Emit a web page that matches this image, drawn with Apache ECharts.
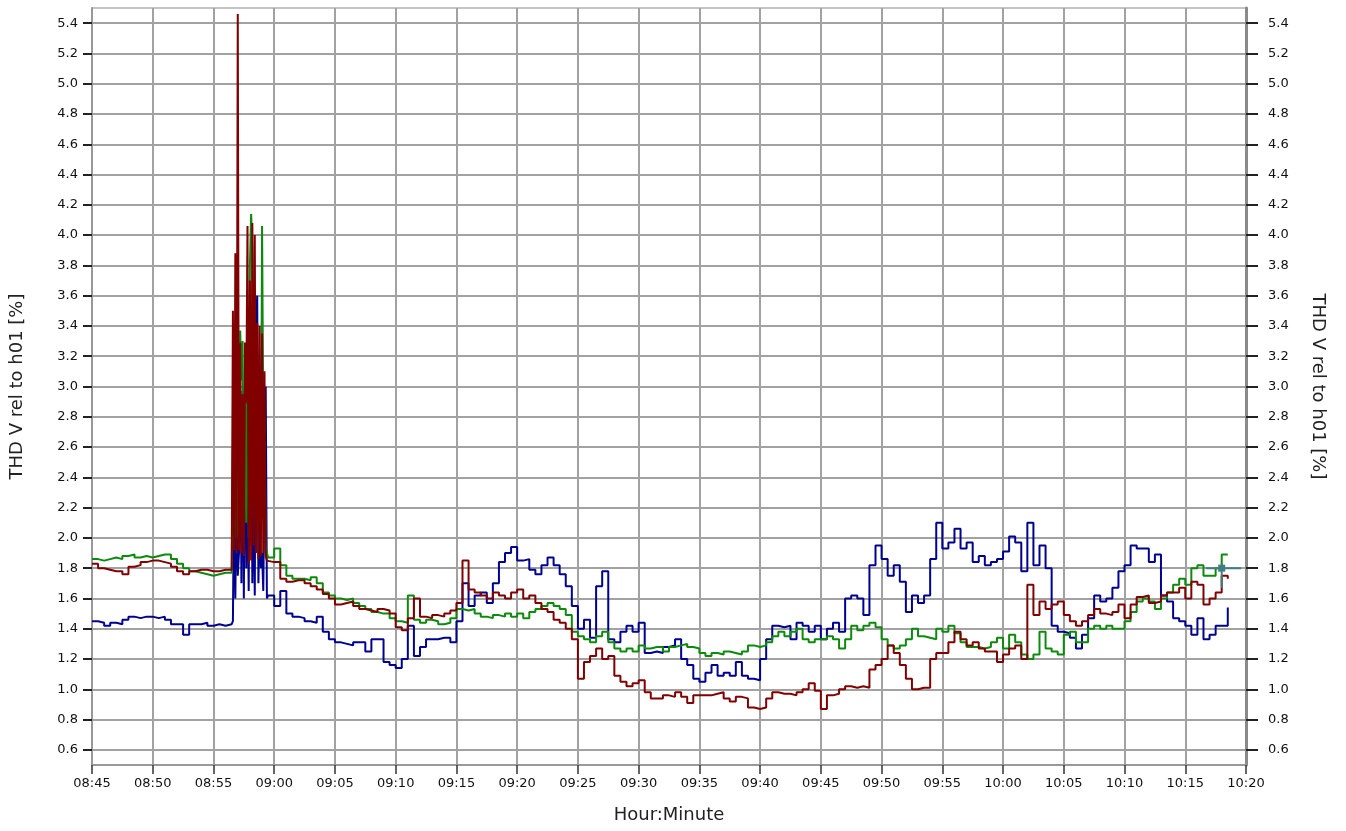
<!DOCTYPE html>
<html>
<head>
<meta charset="utf-8">
<title>THD V rel to h01</title>
<script src="https://cdn.jsdelivr.net/npm/echarts@6.0.0/dist/echarts.min.js"></script>
<style>
    html, body { margin: 0; padding: 0; background: #fff; }
    #chart { width: 1346px; height: 831px; }
</style>
</head>
<body>
<div id="chart"></div>
<script>
// y tick labels
var yTickValues = [0.6, 0.8, 1.0, 1.2, 1.4, 1.6, 1.8, 2.0, 2.2, 2.4, 2.6, 2.8, 3.0, 3.2, 3.4, 3.6, 3.8, 4.0, 4.2, 4.4, 4.6, 4.8, 5.0, 5.2, 5.4];

// sample times in minutes after midnight:
// 08:45:00-08:56:30 every 30 s, burst 08:56:36-08:59:24 every 6 s, 08:59:30-10:18:30 every 30 s
function minutesRange(from, to, step) {
    var out = [];
    for (var m = from; m <= to + 1e-6; m += step) out.push(Math.round(m * 10) / 10);
    return out;
}
var minutes = minutesRange(525, 536.5, 0.5)
    .concat(minutesRange(536.6, 539.4, 0.1))
    .concat(minutesRange(539.5, 618.5, 0.5));

// THD values [%]
var blueTHD = [
    1.45, 1.44, 1.42, 1.44, 1.43, 1.46, 1.48, 1.47, 1.48, 1.48,
    1.47, 1.48, 1.46, 1.43, 1.43, 1.36, 1.43, 1.43, 1.44, 1.42,
    1.43, 1.42, 1.43, 1.43,
    // burst
    1.45, 2.40, 1.60, 2.45, 1.75, 1.90, 3.04, 1.70, 2.97, 1.60,
    3.10, 1.80, 2.43, 1.65, 3.50, 3.29, 1.70, 2.40, 1.62, 3.40,
    3.60, 1.70, 2.20, 1.80, 1.90, 1.65, 2.40, 3.00, 1.60,
    // 08:59:30
    1.62,
    1.55, 1.65, 1.50, 1.48, 1.47, 1.45, 1.44, 1.48, 1.38, 1.33,
    1.31, 1.30, 1.29, 1.31, 1.31, 1.25, 1.33, 1.33, 1.18, 1.16,
    1.14, 1.20, 1.42, 1.22, 1.28, 1.33, 1.33, 1.34, 1.34, 1.31,
    1.45, 1.70, 1.55, 1.62, 1.64, 1.57, 1.70, 1.84, 1.90, 1.94,
    1.85, 1.86, 1.79, 1.76, 1.82, 1.87, 1.82, 1.76, 1.68, 1.55,
    1.40, 1.46, 1.34, 1.68, 1.78, 1.33, 1.31, 1.38, 1.42, 1.38,
    1.44, 1.24, 1.25, 1.24, 1.28, 1.29, 1.33, 1.20, 1.16, 1.07,
    1.05, 1.11, 1.16, 1.09, 1.11, 1.09, 1.18, 1.09, 1.07, 1.06,
    1.20, 1.33, 1.42, 1.41, 1.42, 1.33, 1.44, 1.42, 1.38, 1.42,
    1.33, 1.40, 1.44, 1.38, 1.60, 1.62, 1.60, 1.49, 1.82, 1.95,
    1.86, 1.75, 1.82, 1.71, 1.51, 1.62, 1.57, 1.62, 1.86, 2.10,
    1.93, 1.97, 2.06, 1.93, 1.97, 1.84, 1.88, 1.82, 1.84, 1.86,
    1.91, 2.01, 1.97, 1.78, 2.10, 1.82, 1.95, 1.80, 1.42, 1.38,
    1.37, 1.34, 1.27, 1.36, 1.47, 1.62, 1.58, 1.60, 1.67, 1.78,
    1.82, 1.95, 1.93, 1.93, 1.84, 1.89, 1.62, 1.58, 1.47, 1.45,
    1.42, 1.36, 1.47, 1.33, 1.36, 1.42, 1.42, 1.54
];

var greenTHD = [
    1.86, 1.85, 1.86, 1.87, 1.86, 1.88, 1.89, 1.87, 1.88, 1.87,
    1.88, 1.89, 1.89, 1.86, 1.83, 1.80, 1.78, 1.77, 1.76, 1.75,
    1.76, 1.77, 1.77, 1.78,
    // burst
    2.60, 1.95, 2.90, 2.00, 2.50, 1.94, 3.37, 3.04, 3.30, 2.00,
    3.00, 2.10, 3.50, 2.00, 3.80, 4.14, 3.90, 2.20, 3.50, 2.00,
    3.20, 2.10, 3.00, 2.00, 4.06, 2.78, 2.72, 1.95, 1.90,
    // 08:59:30
    1.87,
    1.93, 1.82, 1.75, 1.73, 1.73, 1.72, 1.74, 1.70, 1.64, 1.62,
    1.60, 1.59, 1.60, 1.57, 1.55, 1.53, 1.51, 1.50, 1.50, 1.47,
    1.45, 1.44, 1.62, 1.46, 1.44, 1.46, 1.45, 1.43, 1.44, 1.47,
    1.53, 1.52, 1.53, 1.50, 1.48, 1.47, 1.49, 1.48, 1.50, 1.48,
    1.50, 1.47, 1.51, 1.53, 1.55, 1.57, 1.55, 1.53, 1.49, 1.38,
    1.35, 1.33, 1.31, 1.35, 1.38, 1.31, 1.27, 1.25, 1.27, 1.25,
    1.29, 1.27, 1.28, 1.28, 1.25, 1.28, 1.29, 1.30, 1.28, 1.27,
    1.24, 1.22, 1.24, 1.23, 1.25, 1.24, 1.23, 1.25, 1.29, 1.28,
    1.29, 1.31, 1.35, 1.38, 1.35, 1.38, 1.40, 1.33, 1.31, 1.33,
    1.33, 1.35, 1.33, 1.27, 1.33, 1.42, 1.39, 1.42, 1.44, 1.41,
    1.33, 1.29, 1.27, 1.29, 1.33, 1.40, 1.35, 1.34, 1.33, 1.40,
    1.38, 1.42, 1.37, 1.31, 1.28, 1.28, 1.27, 1.28, 1.31, 1.34,
    1.27, 1.36, 1.31, 1.23, 1.20, 1.23, 1.38, 1.27, 1.25, 1.23,
    1.36, 1.38, 1.31, 1.31, 1.40, 1.42, 1.40, 1.42, 1.40, 1.40,
    1.45, 1.51, 1.58, 1.60, 1.58, 1.53, 1.60, 1.64, 1.69, 1.73,
    1.69, 1.80, 1.82, 1.75, 1.75, 1.80, 1.89, 1.89
];

var redTHD = [
    1.83, 1.80, 1.79, 1.78, 1.78, 1.76, 1.81, 1.82, 1.84, 1.85,
    1.85, 1.84, 1.83, 1.81, 1.78, 1.76, 1.78, 1.79, 1.79, 1.78,
    1.78, 1.79, 1.79, 1.78,
    // burst
    3.50, 1.92, 3.88, 1.90, 5.46, 1.92, 3.29, 1.90, 2.95, 1.88,
    3.29, 2.89, 4.06, 1.83, 3.70, 1.85, 4.08, 1.95, 4.00, 1.90,
    3.42, 1.86, 3.40, 1.88, 3.35, 1.90, 3.10, 1.88, 1.85,
    // 08:59:30
    1.84,
    1.84, 1.73, 1.71, 1.72, 1.72, 1.70, 1.68, 1.66, 1.63, 1.60,
    1.56, 1.57, 1.58, 1.55, 1.53, 1.52, 1.51, 1.53, 1.52, 1.50,
    1.41, 1.39, 1.47, 1.60, 1.48, 1.47, 1.49, 1.48, 1.50, 1.52,
    1.57, 1.85, 1.66, 1.64, 1.62, 1.60, 1.64, 1.62, 1.60, 1.64,
    1.66, 1.60, 1.62, 1.57, 1.53, 1.51, 1.46, 1.44, 1.40, 1.33,
    1.07, 1.18, 1.22, 1.27, 1.20, 1.22, 1.09, 1.05, 1.02, 1.04,
    1.06, 0.98, 0.94, 0.94, 0.96, 0.95, 0.98, 0.95, 0.91, 0.96,
    0.96, 0.96, 0.97, 0.98, 0.94, 0.92, 0.95, 0.94, 0.88, 0.87,
    0.88, 0.94, 0.98, 0.97, 0.97, 0.96, 0.98, 1.00, 1.04, 0.99,
    0.87, 0.96, 0.97, 1.00, 1.02, 1.01, 1.02, 1.01, 1.13, 1.16,
    1.20, 1.29, 1.24, 1.16, 1.07, 1.00, 1.01, 1.01, 1.20, 1.24,
    1.24, 1.31, 1.38, 1.33, 1.29, 1.31, 1.27, 1.25, 1.25, 1.18,
    1.23, 1.27, 1.29, 1.20, 1.69, 1.49, 1.58, 1.53, 1.56, 1.58,
    1.49, 1.45, 1.42, 1.45, 1.49, 1.53, 1.50, 1.49, 1.51, 1.56,
    1.47, 1.56, 1.61, 1.62, 1.57, 1.58, 1.62, 1.64, 1.64, 1.67,
    1.60, 1.71, 1.69, 1.56, 1.60, 1.64, 1.75, 1.73
];

// cursor marker near the end
var cursorMinutes = [616.7, 618.0, 619.6];
var cursorValues = [1.8, 1.8, 1.8];
var cursorBarMinutes = [618.0, 618.0];
var cursorBarValues = [1.67, 1.83];

function pad(n) { return (n < 10 ? '0' : '') + n; }
function hhmm(v) {
    var h = Math.floor(v / 60), m = Math.round(v - h * 60);
    return pad(h) + ':' + pad(m);
}
function pairs(xs, ys) {
    return xs.map(function (x, i) { return [x, ys[i]]; });
}

var chart = echarts.init(document.getElementById('chart'));
var font = 'DejaVu Sans';
var gridColor = '#a2a2a2';

function lineSeries(name, color, values) {
    return {
        name: name,
        type: 'line',
        step: 'end',
        showSymbol: false,
        data: pairs(minutes, values),
        lineStyle: { color: color, width: 2 },
        itemStyle: { color: color }
    };
}

var option = {
    animation: false,
    backgroundColor: '#fff',
    grid: {
        left: 91,
        right: 100,
        top: 8,
        bottom: 66,
        containLabel: false,
        show: true,
        borderColor: '#c4c4c4',
        borderWidth: 2
    },
    xAxis: {
        type: 'value',
        min: 525,
        max: 620,
        interval: 5,
        name: 'Hour:Minute',
        nameLocation: 'middle',
        nameGap: 41,
        nameTextStyle: { fontFamily: font, fontSize: 18, color: '#222' },
        axisLine: { show: true, lineStyle: { color: '#999', width: 2 } },
        axisTick: { show: true, length: 9, lineStyle: { color: '#333', width: 1.5 } },
        axisLabel: {
            fontFamily: font, fontSize: 13, color: '#111', margin: 12,
            formatter: hhmm
        },
        splitLine: { show: true, lineStyle: { color: gridColor, width: 2 } }
    },
    yAxis: [
        {
            type: 'value',
            position: 'left',
            min: 0.5,
            max: 5.5,
            name: 'THD V rel to h01 [%]',
            nameLocation: 'middle',
            nameGap: 66,
            nameTextStyle: { fontFamily: font, fontSize: 18, color: '#222' },
            axisLine: { show: true, lineStyle: { color: '#999', width: 2 } },
            axisTick: { show: true, customValues: yTickValues, length: 9, lineStyle: { color: '#222', width: 2 } },
            axisLabel: {
                customValues: yTickValues,
                fontFamily: font, fontSize: 13, color: '#111', margin: 14,
                formatter: function (v) { return v.toFixed(1); }
            },
            splitLine: { show: true, lineStyle: { color: gridColor, width: 2 } }
        },
        {
            type: 'value',
            position: 'right',
            min: 0.5,
            max: 5.5,
            name: 'THD V rel to h01 [%]',
            nameLocation: 'middle',
            nameRotate: -90,
            nameGap: 63,
            nameTextStyle: { fontFamily: font, fontSize: 18, color: '#222' },
            axisLine: { show: true, lineStyle: { color: '#8a8a8a', width: 3 } },
            axisTick: { show: true, customValues: yTickValues, length: 12, lineStyle: { color: '#222', width: 2 } },
            axisLabel: {
                customValues: yTickValues,
                fontFamily: font, fontSize: 13, color: '#111', margin: 22,
                formatter: function (v) { return v.toFixed(1); }
            },
            splitLine: { show: false }
        }
    ],
    series: [
        lineSeries('L3', '#000090', blueTHD),
        lineSeries('L2', '#0c8a0c', greenTHD),
        lineSeries('L1', '#800000', redTHD),
        {
            name: 'cursor',
            type: 'line',
            data: [
                [cursorMinutes[0], cursorValues[0]],
                { value: [cursorMinutes[1], cursorValues[1]], symbol: 'rect', symbolSize: 7 },
                [cursorMinutes[2], cursorValues[2]]
            ],
            symbol: 'none',
            lineStyle: { color: '#3f7f7f', width: 2 },
            itemStyle: { color: '#3f7f7f' },
            z: 5
        },
        {
            name: 'cursorBar',
            type: 'line',
            data: pairs(cursorBarMinutes, cursorBarValues),
            symbol: 'none',
            lineStyle: { color: '#3f7f7f', width: 2 },
            z: 5
        }
    ]
};

chart.setOption(option);

window.addEventListener('resize', function () {
    chart.resize();
});
</script>
</body>
</html>
